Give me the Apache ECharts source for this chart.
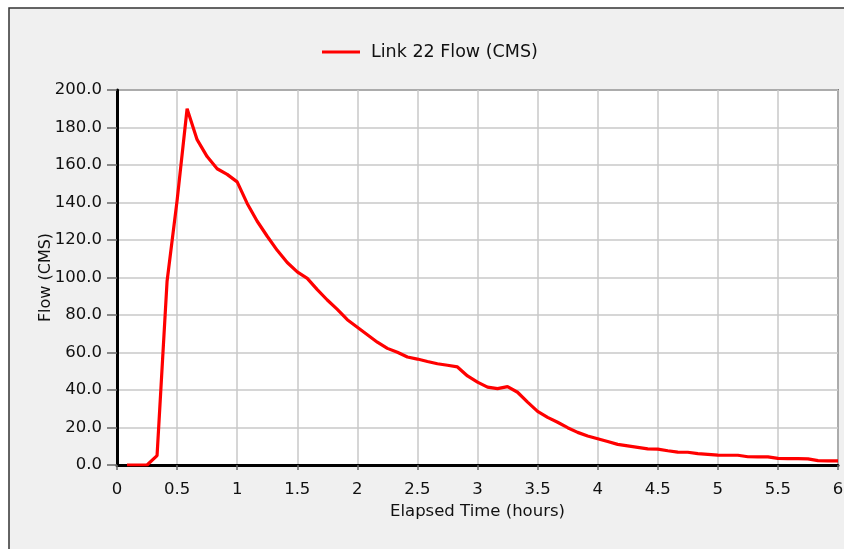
<!DOCTYPE html>
<html>
<head>
<meta charset="utf-8">
<style>
html,body{margin:0;padding:0;background:#ffffff;}
#chart{width:844px;height:549px;}
</style>
<script src="https://cdn.jsdelivr.net/npm/echarts@6/dist/echarts.min.js"></script>
</head>
<body>
<div id="chart"></div>
<script>
// Elapsed time in minutes (5-minute reporting steps)
var timeMinutes = [5,10,15,20,25,30,35,40,45,50,55,60,
  65,70,75,80,85,90,95,100,105,110,115,120,
  125,130,135,140,145,150,155,160,165,170,175,180,
  185,190,195,200,205,210,215,220,225,230,235,240,
  245,250,255,260,265,270,275,280,285,290,295,300,
  305,310,315,320,325,330,335,340,345,350,355,360];
// Link 22 flow (CMS)
var flowValues = [0,0,0,5.0,98,141,190,173.5,164.5,158,155,151,
  139.5,130,122,114.5,108,103,99.5,93.5,88,83,77.5,73.5,
  69.5,65.5,62.2,60.1,57.6,56.5,55.2,54,53.2,52.3,47.5,44.2,
  41.5,40.7,41.8,38.8,33.5,28.6,25.4,22.8,19.9,17.4,15.5,14,
  12.5,11,10.2,9.4,8.6,8.5,7.6,6.9,6.8,6.1,5.7,5.3,
  5.2,5.2,4.4,4.3,4.3,3.5,3.4,3.4,3.3,2.3,2.2,2.2];
var seriesName = 'Link 22 Flow (CMS)';
var xAxisName = 'Elapsed Time (hours)';
var yAxisName = 'Flow (CMS)';

var seriesData = timeMinutes.map(function(t, i){ return [t / 60, flowValues[i]]; });
var FONT = 'DejaVu Sans';

var chart = echarts.init(document.getElementById('chart'), null, {renderer:'canvas'});
chart.setOption({
  backgroundColor: '#ffffff',
  animation: false,
  graphic: [{
    type: 'rect', z: -100, silent: true,
    shape: {x: 9, y: 8, width: 900, height: 600},
    style: {fill: '#f0f0f0', stroke: '#333333', lineWidth: 1.5}
  }],
  legend: {
    left: 322, top: 42, padding: 0,
    itemWidth: 38, itemHeight: 3, icon: 'rect',
    textStyle: {fontFamily: FONT, fontSize: 17.5, color: '#111', lineHeight: 20, padding: [0,0,0,6]},
    data: [{name: seriesName, itemStyle: {color: '#ff0000'}}]
  },
  grid: {
    left: 117, top: 90, right: 6, bottom: 84,
    show: true, backgroundColor: '#ffffff', borderColor: '#222222', borderWidth: 1.5,
    containLabel: false, outerBoundsMode: 'none'
  },
  xAxis: {
    type: 'value', min: 0, max: 6, interval: 0.5,
    name: xAxisName, nameLocation: 'middle', nameGap: 38, nameMoveOverlap: false,
    nameTextStyle: {fontFamily: FONT, fontSize: 16.5, color: '#111'},
    axisLine: {show: true, onZero: false, lineStyle: {color: '#000', width: 3}},
    axisTick: {show: true, length: 5, lineStyle: {color: '#666', width: 1.5}},
    axisLabel: {fontFamily: FONT, fontSize: 16.5, color: '#111', margin: 16, showMaxLabel: true, hideOverlap: false},
    splitLine: {show: true, lineStyle: {color: '#c8c8c8', width: 1.5}}
  },
  yAxis: {
    type: 'value', min: 0, max: 200, interval: 20,
    name: yAxisName, nameLocation: 'middle', nameGap: 63, nameMoveOverlap: false,
    nameTextStyle: {fontFamily: FONT, fontSize: 16, color: '#111'},
    axisLine: {show: true, lineStyle: {color: '#000', width: 3}},
    axisTick: {show: true, length: 10, lineStyle: {color: '#666', width: 1.5}},
    axisLabel: {fontFamily: FONT, fontSize: 16.5, color: '#111', margin: 15,
      formatter: function(v){ return v.toFixed(1); }},
    splitLine: {show: true, lineStyle: {color: '#c8c8c8', width: 1.5}}
  },
  series: [{
    name: seriesName, type: 'line', data: seriesData,
    showSymbol: false, symbol: 'none', smooth: false,
    lineStyle: {color: '#ff0000', width: 3.2},
    itemStyle: {color: '#ff0000'},
    z: 5
  }]
});
</script>
</body>
</html>
